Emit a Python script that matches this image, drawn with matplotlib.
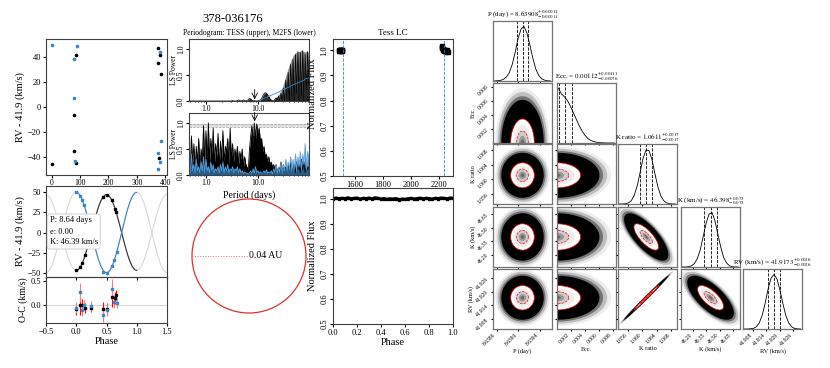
import matplotlib
matplotlib.use('Agg')
import matplotlib.pyplot as plt
import numpy as np
from matplotlib.patches import Circle
from matplotlib.ticker import FixedLocator, FixedFormatter, NullFormatter

# ---------------- data ----------------
# RV vs time (days)
t_black = [0, 80, 78, 85, 86, 375, 374, 382, 385, 379]
rv_black = [-46, -6.4, -35.6, 41.6, -45.3, 46.6, 35, 41.3, 26, -41]
t_blue = [2, 79, 80, 82, 88, 380, 374, 385, 382, 373]
rv_blue = [49, 38, 6.9, -43, 48.5, 43.5, -37, -27.4, -44, -49.4]

# phase folded RV
ph_black = [0.0, 0.06, 0.10, 0.15, 0.245, 0.45, 0.51, 0.59, 0.64, 0.66]
rvph_black = [-46.5, -42.1, -37.5, -27.4, -1.6, 44.0, 46.2, 39.3, 29.4, 25.1]
oc_black = [-0.09, 0.0, 0.0, -0.06, -0.05, -0.08, -0.08, 0.17, 0.15, 0.21]
ph_blue = [0.0, 0.06, 0.10, 0.13, 0.24, 0.445, 0.51, 0.59, 0.63, 0.67]
rvph_blue = [49.2, 45.3, 39.7, 33.6, 3.1, -48.4, -49.2, -41.2, -33.3, -24.3]
oc_blue = [-0.05, 0.26, -0.10, 0.0, -0.02, -0.21, -0.10, 0.33, 0.06, 0.04]
oc_err = [0.12, 0.2, 0.12, 0.1, 0.1, 0.14, 0.12, 0.2, 0.12, 0.1]
K_fit = 46.39
K_ratio = 1.0611

# periodograms (sampled on a log period grid 0.47 - 95 d)
tess_power = [0.0] * 36 + [0.01, 0.0, 0.0, 0.0,
              0.01, 0.02, 0.01, 0.0, 0.01, 0.02, 0.01, 0.0, 0.01, 0.03,
              0.05, 0.04, 0.02, 0.0, 0.01, 0.0, 0.0,
              0.0, 0.01, 0.02, 0.05, 0.1, 0.14, 0.16, 0.15, 0.12, 0.08, 0.04, 0.02, 0.01,
              0.0, 0.03, 0.06, 0.02, 0.1, 0.0, 0.15, 0.02, 0.25, 0.0, 0.4, 0.05, 0.55, 0.0, 0.7,
              0.1, 0.8, 0.0, 0.9, 0.15, 0.95, 0.0, 0.93, 0.1, 0.97, 0.0, 0.9, 0.2, 0.95, 0.3]
tess_envelope = [0.0] * 70 + [0.03, 0.05, 0.07, 0.09, 0.12, 0.15, 0.2, 0.25, 0.32, 0.4,
                              0.48, 0.56, 0.63, 0.7, 0.76, 0.82, 0.87, 0.9, 0.92, 0.94,
                              0.95, 0.95, 0.96, 0.97, 0.96, 0.95, 0.94, 0.95, 0.96, 0.9]
tess_blue = [np.nan] * 55 + [0, 0.005, 0.01, 0.015, 0.02, 0.03, 0.04, 0.05, 0.06, 0.07, 0.08,
             0.09, 0.1, 0.11, 0.12, 0.13, 0.14, 0.15, 0.16, 0.17, 0.18, 0.2, 0.21, 0.22, 0.23,
             0.24, 0.25, 0.26, 0.27, 0.28, 0.3, 0.31, 0.32, 0.33, 0.34, 0.35, 0.36, 0.37, 0.38,
             0.39, 0.4, 0.42, 0.43, 0.44, 0.45]
m2fs_black = [0.45, 0.15, 0.75, 0.2, 0.6, 0.1, 0.55, 0.25, 0.7, 0.15, 0.5, 0.3, 0.95, 0.2,
              0.85, 0.3, 1.0, 0.25, 0.7, 0.4, 0.9, 0.2, 0.6, 0.35, 0.8, 0.15, 0.65,
              0.3, 0.85, 0.25, 0.55, 0.45, 0.7, 0.2, 0.9, 0.3, 0.6, 0.25, 0.5, 0.35,
              0.55, 0.2, 0.45, 0.3, 0.5, 0.15, 0.35, 0.2, 0.15, 0.1,
              0.5, 0.75, 0.95, 0.6, 1.0, 0.7, 0.98, 0.8, 0.9, 0.65, 0.7,
              0.45, 0.55, 0.35, 0.4, 0.25, 0.35, 0.2, 0.25, 0.15, 0.2,
              0.1, 0.2, 0.05, 0.15, 0.1, 0.25, 0.05, 0.2, 0.1, 0.15, 0.05, 0.2, 0.1, 0.25, 0.05,
              0.15, 0.2, 0.05, 0.25, 0.1, 0.2, 0.05, 0.3, 0.1, 0.25, 0.05, 0.2, 0.1, 0.15]
m2fs_blue = [0.25, 0.04, 0.4, 0.08, 0.2, 0.04, 0.3, 0.08, 0.16, 0.04, 0.25, 0.08, 0.35, 0.04,
             0.3, 0.08, 0.16, 0.04, 0.25, 0.08, 0.2, 0.04, 0.12, 0.08, 0.16, 0.04, 0.2,
             0.08, 0.25, 0.04, 0.16, 0.08, 0.2, 0.04, 0.12, 0.08, 0.16, 0.04, 0.12, 0.08,
             0.16, 0.04, 0.12, 0.04, 0.08, 0.03, 0.06, 0.03, 0.04, 0.02,
             0.04, 0.08, 0.03, 0.12, 0.04, 0.16, 0.04, 0.08, 0.03, 0.06, 0.04,
             0.03, 0.08, 0.04, 0.1, 0.03, 0.06, 0.04, 0.08, 0.02, 0.12,
             0.05, 0.2, 0.03, 0.15, 0.05, 0.25, 0.03, 0.2, 0.08, 0.3, 0.05, 0.25, 0.1, 0.35, 0.05,
             0.3, 0.1, 0.4, 0.08, 0.35, 0.15, 0.45, 0.1, 0.4, 0.2, 0.6, 0.1, 0.45, 0.3]
period_best = 8.64

# TESS light curve
tess_t1 = [1491, 1493, 1495, 1497, 1499, 1501, 1503, 1505, 1507, 1509, 1511, 1513]
tess_f1 = [1.000, 0.998, 1.002, 1.001, 0.999, 1.000, 1.003, 0.998, 1.001, 1.000, 0.999, 1.002]
tess_t2 = [2218, 2221, 2224, 2227, 2230, 2233, 2236, 2239, 2242, 2245, 2248, 2251, 2254, 2257, 2260]
tess_f2 = [1.018, 1.012, 1.008, 1.005, 1.003, 1.000, 0.998, 1.002, 0.996, 1.001, 0.994, 0.999,
           1.003, 0.997, 0.992]
rv_epochs = [1515, 2234]
lc_phase = [0.0, 0.025, 0.05, 0.075, 0.1, 0.125, 0.15, 0.175, 0.2, 0.225, 0.25, 0.275, 0.3,
            0.325, 0.35, 0.375, 0.4, 0.425, 0.45, 0.475, 0.5, 0.525, 0.55, 0.575, 0.6, 0.625,
            0.65, 0.675, 0.7, 0.725, 0.75, 0.775, 0.8, 0.825, 0.85, 0.875, 0.9, 0.925, 0.95,
            0.975, 1.0]
lc_flux = [1.000, 1.002, 0.999, 1.001, 1.000, 1.003, 0.999, 1.001, 1.002, 0.998, 1.001, 1.000,
           1.002, 0.999, 1.003, 1.001, 0.998, 1.000, 0.997, 0.999, 0.998, 1.000, 0.996, 0.998,
           0.997, 0.999, 1.001, 0.998, 1.000, 1.002, 0.999, 1.001, 1.000, 0.998, 1.001, 1.000,
           1.002, 1.001, 0.999, 1.002, 1.001]
orbit_au = 0.04

# MCMC posterior summary
names = ['P (day)', 'Ecc.', 'K ratio', 'K (km/s)', 'RV (km/s)']
titles = [r'P (day) = $8.63908^{+0.00011}_{-0.00011}$',
          r'Ecc. = $0.00112^{+0.00111}_{-0.00076}$',
          r'K ratio = $1.0611^{+0.0017}_{-0.0017}$',
          r'K (km/s) = $46.398^{+0.073}_{-0.073}$',
          r'RV (km/s) = $41.9173^{+0.0026}_{-0.0026}$']
quant = [[8.63897, 8.63908, 8.63919], [0.00036, 0.00112, 0.00223], [1.0594, 1.0611, 1.0628],
         [46.325, 46.398, 46.471], [41.9147, 41.9173, 41.9199]]
centers = [8.63908, 0.0, 1.0611, 46.398, 41.9173]
sigmas = [0.00011, 0.0017, 0.0017, 0.073, 0.0027]
lows = [8.63853, 0.0, 1.0533, 46.065, 41.9035]
highs = [8.63963, 0.0085, 1.0696, 46.73, 41.930]
corr = {(2, 3): -0.75, (2, 4): 0.995, (3, 4): -0.7}
ticks = [[8.6386, 8.6390, 8.6394], [0.002, 0.004, 0.006, 0.008], [1.056, 1.060, 1.064, 1.068],
         [46.20, 46.35, 46.50, 46.65], [41.908, 41.914, 41.920, 41.926]]
tick_labels = [['8.6386', '8.6390', '8.6394'], ['0.002', '0.004', '0.006', '0.008'],
               ['1.056', '1.060', '1.064', '1.068'], ['46.20', '46.35', '46.50', '46.65'],
               ['41.908', '41.914', '41.920', '41.926']]
hists = [[0, 0.005, 0.01, 0.03, 0.07, 0.15, 0.3, 0.52, 0.78, 0.95, 1.0, 0.88, 0.66, 0.42, 0.22, 0.1, 0.04, 0.015, 0.005, 0],
         [1.0, 0.9, 0.85, 0.78, 0.68, 0.56, 0.44, 0.32, 0.22, 0.14, 0.08, 0.045, 0.025, 0.012, 0.006, 0.003, 0.001, 0, 0, 0],
         [0, 0, 0.005, 0.02, 0.06, 0.16, 0.33, 0.58, 0.84, 0.99, 0.98, 0.82, 0.56, 0.32, 0.15, 0.06, 0.02, 0.005, 0, 0],
         [0, 0, 0.005, 0.02, 0.06, 0.15, 0.31, 0.55, 0.8, 0.97, 1.0, 0.85, 0.6, 0.36, 0.17, 0.07, 0.02, 0.005, 0, 0],
         [0, 0, 0.005, 0.01, 0.04, 0.11, 0.25, 0.47, 0.73, 0.93, 1.0, 0.92, 0.72, 0.47, 0.25, 0.11, 0.04, 0.01, 0.003, 0]]

# ---------------- style ----------------
plt.rcParams['font.family'] = 'serif'
plt.rcParams['font.serif'] = ['Liberation Serif', 'DejaVu Serif']
plt.rcParams['mathtext.fontset'] = 'stix'
plt.rcParams['axes.edgecolor'] = '0.25'
plt.rcParams['axes.linewidth'] = 0.8
plt.rcParams['xtick.labelsize'] = 6
plt.rcParams['ytick.labelsize'] = 6
plt.rcParams['xtick.major.size'] = 2
plt.rcParams['ytick.major.size'] = 2
plt.rcParams['xtick.minor.size'] = 1
plt.rcParams['ytick.minor.size'] = 1
plt.rcParams['xtick.major.pad'] = 1.5
plt.rcParams['ytick.major.pad'] = 1.5

W, H = 830, 368
fig = plt.figure(figsize=(W / 100, H / 100), dpi=100)


def box(x0, y0, x1, y1):
    a = fig.add_axes([x0 / W, 1 - y1 / H, (x1 - x0) / W, (y1 - y0) / H])
    a.patch.set_alpha(0)
    return a


blue = '#3a86c8'

# RV vs time
ax = box(46, 39, 167, 175)
ax.plot(t_black, rv_black, 'o', color='k', ms=1.6)
ax.plot(t_blue, rv_blue, 'o', color=blue, ms=1.6)
ax.set_xlim(-20, 406)
ax.set_ylim(-54.5, 54)
ax.set_xticks([0, 100, 200, 300, 400])
ax.set_yticks([-40, -20, 0, 20, 40])
ax.tick_params(axis='x', labelsize=5.5, pad=1)
ax.set_ylabel('RV - 41.9 (km/s)', fontsize=7.5, labelpad=2)

# phase folded RV
ax = box(46, 186, 167, 277)
phase = np.linspace(-0.5, 1.5, 400)
inside = (phase >= 0) & (phase <= 1)
mod_black = -K_fit * np.cos(2 * np.pi * phase)
mod_blue = K_fit * K_ratio * np.cos(2 * np.pi * phase)
ax.plot(phase, mod_black, color='0.85', lw=0.8)
ax.plot(phase, mod_blue, color='0.85', lw=0.8)
ax.plot(phase[inside], mod_black[inside], color='0.2', lw=0.8)
ax.plot(phase[inside], mod_blue[inside], color=blue, lw=0.8)
ax.plot(ph_black, rvph_black, 's', color='k', ms=1.5)
ax.plot(ph_blue, rvph_blue, 's', color=blue, ms=1.5)
ax.set_xlim(-0.5, 1.5)
ax.set_ylim(-54.5, 57)
ax.set_yticks([-50, -25, 0, 25, 50])
ax.set_xticks([-0.5, 0.0, 0.5, 1.0, 1.5])
ax.xaxis.set_major_formatter(NullFormatter())
ax.set_ylabel('RV - 41.9 (km/s)', fontsize=7.5, labelpad=2)
ax.text(0.03, 0.5, 'P: 8.64 days\ne: 0.00\nK: 46.39 km/s', transform=ax.transAxes,
        fontsize=6, va='center', ha='left', linespacing=1.5,
        bbox=dict(boxstyle='round,pad=0.3', fc='white', ec='0.75', lw=0.5))

# O-C residuals
ax = box(46, 277, 167, 323)
ax.axhline(0, color='0.85', lw=0.8)
ax.errorbar(ph_black, oc_black, yerr=oc_err, fmt='s', color='k', ms=1.5,
            ecolor='red', elinewidth=0.8)
ax.errorbar(ph_blue, oc_blue, yerr=oc_err, fmt='s', color=blue, ms=1.5,
            ecolor='#f08080', elinewidth=0.8)
ax.set_xlim(-0.5, 1.5)
ax.set_ylim(-0.37, 0.58)
ax.set_xticks([-0.5, 0.0, 0.5, 1.0, 1.5])
ax.set_yticks([0.0, 0.5])
ax.set_ylabel('O-C (km/s)', fontsize=7, labelpad=2)
ax.set_xlabel('Phase', fontsize=7.5, labelpad=1)

# title
fig.text(233 / W, 1 - 19 / H, '378-036176', fontsize=9, ha='center', va='center')

# periodograms
per = np.geomspace(0.47, 95, 100)
ax = box(189, 39, 309, 101)
ax.fill_between(per, 0, tess_envelope, color='0.55', lw=0)
ax.fill_between(per, 0, tess_power, color='0.15', lw=0)
ax.plot(per, tess_power, color='k', lw=0.5)
ax.plot(per, tess_blue, color=blue, lw=0.6)
ax.annotate('', xy=(period_best, 0.03), xytext=(period_best, 0.22),
            arrowprops=dict(arrowstyle='->', lw=0.6, color='k', shrinkA=0, shrinkB=0))
ax.set_title('Periodogram: TESS (upper), M2FS (lower)', fontsize=5.5, pad=3)

ax2 = box(189, 113, 309, 175)
ax2.axhspan(0.92, 0.97, color='0.88', lw=0)
ax2.axhline(0.97, color='0.6', lw=0.5, ls='--')
ax2.axhline(0.92, color='0.6', lw=0.5, ls='--')
ax2.fill_between(per, 0, m2fs_black, color='k', lw=0)
ax2.plot(per, m2fs_black, color='k', lw=0.6)
ax2.fill_between(per, 0, m2fs_blue, color='#2a6fa8', lw=0, alpha=0.85)
ax2.plot(per, m2fs_blue, color='#5aa2dc', lw=0.6)
ax2.annotate('', xy=(period_best, 1.03), xytext=(period_best, 1.2),
             arrowprops=dict(arrowstyle='->', lw=0.6, color='k', shrinkA=0, shrinkB=0))
ax2.set_xlabel('Period (days)', fontsize=7, labelpad=2)
for a in (ax, ax2):
    a.set_xscale('log')
    a.set_xlim(0.47, 96)
    a.set_ylim(0, 1.19)
    a.xaxis.set_major_locator(FixedLocator([1, 10]))
    a.xaxis.set_major_formatter(FixedFormatter(['1.0', '10.0']))
    a.xaxis.set_minor_formatter(NullFormatter())
    a.set_yticks([0.0, 0.5, 1.0])
    a.tick_params(labelsize=5.5, pad=1)
    plt.setp(a.get_yticklabels(), rotation=90, va='center')
    a.set_ylabel('LS Power', fontsize=5.5)
    a.yaxis.set_label_coords(-0.09, 0.5)

# orbit
ax = box(189, 196, 309, 316)
ax.add_patch(Circle((0, 0), orbit_au, fill=False, ec='#e03030', lw=0.9))
ax.plot([-orbit_au, 0], [0, 0], ls=':', color='#f07070', lw=0.7)
ax.text(0, 0, '%.2f AU' % orbit_au, fontsize=7, ha='left', va='center')
ax.set_xlim(-0.0421, 0.0421)
ax.set_ylim(-0.0421, 0.0421)
ax.set_aspect('equal')
ax.axis('off')

# TESS light curve
ax = box(333, 39, 453, 176)
ax.plot(tess_t1, tess_f1, 's', color='k', ms=2.5)
ax.plot(tess_t2, tess_f2, 's', color='k', ms=2.5)
for e in rv_epochs:
    ax.axvline(e, color=blue, lw=0.6, ls='--')
ax.set_xlim(1447, 2299)
ax.set_ylim(0.5, 1.045)
ax.set_xticks([1600, 1800, 2000, 2200])
ax.set_title('Tess LC', fontsize=6.5, pad=3)
ax.set_ylabel('Normalized Flux', fontsize=7.5)
ax.yaxis.set_label_coords(-0.13, 0.6)
plt.setp(ax.get_yticklabels(), rotation=90, va='center')

ax = box(333, 188, 453, 324)
ax.plot(lc_phase, lc_flux, '-', color='k', lw=2.2)
ax.plot(lc_phase, lc_flux, 's', color='k', ms=1.5)
ax.set_xlim(0, 1)
ax.set_ylim(0.5, 1.042)
ax.set_xticks([0.0, 0.2, 0.4, 0.6, 0.8, 1.0])
ax.set_ylabel('Normalized Flux', fontsize=7.5)
ax.yaxis.set_label_coords(-0.13, 0.5)
ax.set_xlabel('Phase', fontsize=7.5, labelpad=1)
plt.setp(ax.get_yticklabels(), rotation=90, va='center')

# corner plot
col_x = [493, 557, 618, 681, 743]
row_y = [21, 83, 144, 207, 269]
cw, ch = 59, 60
t = np.linspace(0, 2 * np.pi, 150)
layers = [(4.6, '0.93', None, None), (4.25, '0.75', None, None), (3.9, '0.45', None, None),
          (3.6, 'k', None, None), (2.0, 'white', 'red', '-'), (1.5, '0.93', None, None),
          (1.0, '0.8', 'red', '--'), (0.6, '0.6', None, None), (0.3, '0.42', None, None)]
n = len(names)
for i in range(n):
    for j in range(i + 1):
        ax = box(col_x[j], row_y[i], col_x[j] + cw, row_y[i] + ch)
        for s in ax.spines.values():
            s.set_color('0.45')
            s.set_linewidth(0.9)
        ax.set_xlim(lows[j], highs[j])
        ax.set_xticks(ticks[j])
        ax.tick_params(labelsize=4, length=1.5, pad=1)
        if i == j:
            edges = np.linspace(lows[i], highs[i], len(hists[i]) + 1)
            mids = 0.5 * (edges[1:] + edges[:-1])
            ax.plot(mids, hists[i], color='k', lw=0.6)
            for q in quant[i]:
                ax.axvline(q, color='k', ls='--', lw=0.6)
            ax.set_ylim(0, 1.1)
            ax.set_yticks([])
            ax.set_title(titles[i], fontsize=5, pad=2)
        else:
            rho = corr.get((j, i), 0.0)
            ax.set_ylim(lows[i], highs[i])
            ax.set_yticks(ticks[i])
            u, v = np.cos(t), np.sin(t)
            for r, fc, ec, ls in layers:
                x = centers[j] + r * sigmas[j] * u
                y = centers[i] + r * sigmas[i] * (rho * u + np.sqrt(1 - rho ** 2) * v)
                ax.fill(x, y, color=fc, lw=0)
                if ec:
                    ax.plot(x, y, color=ec, lw=0.5, ls=ls)
            if j == 0:
                ax.set_yticklabels(tick_labels[i])
                plt.setp(ax.get_yticklabels(), rotation=45)
                ax.set_ylabel(names[i], fontsize=4.5, labelpad=1)
            else:
                ax.set_yticklabels([])
        if i == n - 1:
            ax.set_xticklabels(tick_labels[j])
            plt.setp(ax.get_xticklabels(), rotation=45, ha='right')
            ax.set_xlabel(names[j], fontsize=4.5, labelpad=1)
        else:
            ax.set_xticklabels([])

fig.savefig('out.png', dpi=100)
